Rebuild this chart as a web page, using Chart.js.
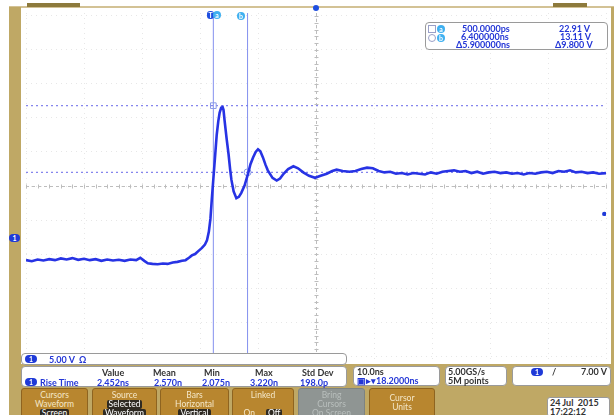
<!DOCTYPE html>
<html>
<head>
<meta charset="utf-8">
<script src="https://cdn.jsdelivr.net/npm/chart.js@4.4.1/dist/chart.umd.min.js"></script>
<style>
  html, body { margin: 0; padding: 0; }
  body { width: 614px; height: 415px; background: #fff; position: relative; overflow: hidden;
         font-family: Lato, "Open Sans", sans-serif; font-weight: 700; }
  .abs { position: absolute; }
  .olive { background: #bfa865; }
  .box { position: absolute; background: #fff; border: 1px solid #9a9a9a; border-radius: 4px; box-sizing: border-box; }
  .blue { color: #2336d6; }
  .dark { color: #333; }
  .pill { display: inline-block; background: #1f3ad8; color: #fff; border-radius: 5px; font-size: 7px;
          line-height: 8px; width: 12px; text-align: center; }
  .btn { position: absolute; top: 388px; height: 30px; background: #b8862f; border: 1px solid #8e6420;
         border-radius: 3px; box-sizing: border-box; color: #f4e7c8; font-size: 8.5px; line-height: 9px;
         text-align: center; padding-top: 2px; font-weight: 400; }
  .btn .sel { display: inline-block; background: #2e2a22; color: #fff; padding: 0 2px; border-radius: 2px; }
  .gray { background: #8f9593; border-color: #7d8381; color: #b9bfbd; }
  .t { position: absolute; font-size: 9px; line-height: 9px; white-space: nowrap; }
  #wrap { position: absolute; left: 21px; top: 8px; width: 590px; height: 356px; }
</style>
</head>
<body>
<div class="abs" style="left:9px;top:6px;width:605px;height:2px;background:#d3c295"></div>
<div class="abs" style="left:27px;top:3px;width:53px;height:4px;background:#8d7a3c"></div>
<div class="abs" style="left:553px;top:3px;width:34px;height:4px;background:#8d7a3c"></div>
<div class="abs olive" style="left:9px;top:7px;width:12px;height:408px"></div>
<div class="abs olive" style="left:611px;top:7px;width:3px;height:408px"></div>
<div class="abs olive" style="left:9px;top:364px;width:605px;height:51px"></div>

<div id="wrap"><canvas id="scope"></canvas></div>

<!-- ground marker and cursor labels -->
<div class="abs pill" style="left:9px;top:234px;width:11px">1</div>
<div class="abs" style="left:207px;top:11px;width:7px;height:8px;border-radius:3px;background:#1f4fe0;color:#fff;font-size:7px;line-height:8px;text-align:center">T</div>
<div class="abs" style="left:213px;top:11px;width:8px;height:8px;border-radius:4px;background:#3fb0f0;color:#fff;font-size:7px;line-height:8px;text-align:center">a</div>
<div class="abs" style="left:237px;top:12px;width:8px;height:8px;border-radius:4px;background:#3fb0f0;color:#fff;font-size:7px;line-height:8px;text-align:center">b</div>
<div class="abs" style="left:313px;top:5px;width:6px;height:6px;border-radius:3px;background:#1f4fe0"></div>

<!-- cursor readout -->
<div class="box" style="left:425px;top:22px;width:183px;height:28px"></div>
<div class="abs" style="left:428px;top:25px;width:6px;height:6px;border:1px solid #9aa0c8"></div>
<div class="abs" style="left:428px;top:34px;width:6px;height:6px;border:1px solid #9aa0c8;border-radius:4px"></div>
<div class="abs" style="left:437px;top:25px;width:8px;height:8px;border-radius:4px;background:#3fb0f0;color:#fff;font-size:7px;line-height:8px;text-align:center">a</div>
<div class="abs" style="left:437px;top:34px;width:8px;height:8px;border-radius:4px;background:#3fb0f0;color:#fff;font-size:7px;line-height:8px;text-align:center">b</div>
<div class="t blue" style="left:462px;top:24px">500.0000ps</div>
<div class="t blue" style="left:461px;top:32px">6.400000ns</div>
<div class="t blue" style="left:456px;top:40px">Δ5.900000ns</div>
<div class="t blue" style="left:559px;top:24px">22.91 V</div>
<div class="t blue" style="left:560px;top:32px">13.11 V</div>
<div class="t blue" style="left:555px;top:40px">Δ9.800 V</div>

<!-- channel and measurement boxes -->
<div class="box" style="left:21px;top:353px;width:326px;height:12px"></div>
<div class="abs pill" style="left:25px;top:355px">1</div>
<div class="t blue" style="left:49px;top:355px">5.00 V &nbsp;Ω</div>

<div class="box" style="left:21px;top:366px;width:326px;height:21px"></div>
<div class="abs pill" style="left:25px;top:378px">1</div>
<div class="t blue" style="left:40px;top:378px">Rise Time</div>
<div class="t dark" style="left:102px;top:368px">Value</div>
<div class="t dark" style="left:153px;top:368px">Mean</div>
<div class="t dark" style="left:204px;top:368px">Min</div>
<div class="t dark" style="left:255px;top:368px">Max</div>
<div class="t dark" style="left:302px;top:368px">Std Dev</div>
<div class="t blue" style="left:97px;top:378px">2.452ns</div>
<div class="t blue" style="left:154px;top:378px">2.570n</div>
<div class="t blue" style="left:202px;top:378px">2.075n</div>
<div class="t blue" style="left:250px;top:378px">3.220n</div>
<div class="t blue" style="left:300px;top:378px">198.0p</div>

<div class="box" style="left:353px;top:366px;width:87px;height:20px"></div>
<div class="t dark" style="left:357px;top:367px">10.0ns</div>
<div class="t blue" style="left:357px;top:376px">▣▸▾18.2000ns</div>

<div class="box" style="left:445px;top:366px;width:62px;height:20px"></div>
<div class="t dark" style="left:448px;top:367px">5.00GS/s</div>
<div class="t dark" style="left:448px;top:376px">5M points</div>

<div class="box" style="left:512px;top:366px;width:99px;height:20px"></div>
<div class="abs pill" style="left:531px;top:368px">1</div>
<div class="t dark" style="left:552px;top:367px">/</div>
<div class="t dark" style="left:581px;top:367px">7.00 V</div>

<div class="box" style="left:547px;top:397px;width:63px;height:20px;border-radius:3px"></div>
<div class="t dark" style="left:550px;top:398px">24 Jul &nbsp;2015</div>
<div class="t dark" style="left:550px;top:407px">17:22:12</div>

<!-- soft buttons -->
<div class="btn" style="left:21px;width:67px">Cursors<br>Waveform<br><span class="sel">Screen</span></div>
<div class="btn" style="left:92px;width:65px">Source<br><span class="sel">Selected</span><br><span class="sel">Waveform</span></div>
<div class="btn" style="left:160px;width:69px">Bars<br>Horizontal<br><span class="sel">Vertical</span></div>
<div class="btn" style="left:232px;width:62px">Linked<br><br>On &nbsp;&nbsp;&nbsp;&nbsp;<span class="sel">Off</span></div>
<div class="btn gray" style="left:298px;width:67px">Bring<br>Cursors<br>On Screen</div>
<div class="btn" style="left:369px;width:66px;padding-top:5px">Cursor<br>Units</div>

<script>
// horizontal: 10 ns/div, trigger position 18.2 ns; vertical: 5 V/div
const xGrid = [-31.8, -21.8, -11.8, -1.8, 8.2, 18.2, 28.2, 38.2, 48.2, 58.2, 68.2];
const yGrid = [-13.9, -8.9, -3.9, 1.1, 6.1, 11.1, 16.1, 21.1, 26.1, 31.1, 36.1];

// channel 1 trace, time in ns, volts
const timeNs = [
  -31.8, -30.8, -29.8, -28.8, -27.8, -26.8, -25.8, -24.8, -23.8, -22.8,
  -21.8, -20.8, -19.8, -18.8, -17.8, -16.8, -15.8, -14.8, -13.8, -12.8,
  -12.1, -11.4, -10.8, -10.0, -9.1, -8.2, -7.4, -6.5, -5.7, -4.9,
  -4.3, -3.7, -3.2, -2.65, -2.0, -1.46, -0.95, -0.6, -0.27, 0.0,
  0.23, 0.57, 0.85, 1.08, 1.35, 1.59, 1.85, 2.1, 2.25, 2.44,
  2.8, 3.12, 3.4, 3.62, 4.0, 4.47, 4.9, 5.32, 5.9, 6.51,
  6.9, 7.35, 7.8, 8.2, 8.6, 9.05, 9.5, 9.89, 10.7, 11.42,
  12.0, 12.61, 13.4, 14.3, 15.1, 16.0, 17.0, 18.03, 19.0, 20.06,
  21.0, 21.76, 22.8, 23.96, 25, 26, 27, 28, 29, 30,
  31, 32, 33, 34, 35, 36, 37, 38, 39, 40,
  41, 42, 43, 44, 45, 46, 47, 48, 49, 50,
  51, 52, 53, 54, 55, 56, 57, 58, 59, 60,
  61, 62, 63, 64, 65, 66, 67, 68.2
];
const ch1Volts = [
  0.2, 0.05, 0.3, 0.15, 0.35, 0.2, 0.45, 0.3, 0.5, 0.25,
  0.4, 0.2, 0.35, 0.1, 0.3, 0.15, 0.25, 0.1, 0.3, 0.2,
  0.55, 0.1, -0.25, -0.35, -0.4, -0.3, -0.35, -0.15, -0.05, 0.1,
  0.2, 0.55, 0.9, 1.1, 1.6, 2.0, 2.5, 3.1, 4.4, 6.3,
  9.1, 12.9, 16.0, 18.6, 20.6, 21.9, 22.6, 22.7, 22.3, 20.7,
  18.0, 15.8, 13.5, 12.0, 10.3, 9.3, 9.5, 10.1, 11.2, 13.0,
  14.3, 15.3, 16.1, 16.5, 16.2, 15.3, 14.2, 13.4, 12.3, 11.9,
  12.2, 12.9, 13.6, 14.0, 13.7, 13.1, 12.6, 12.3, 12.6, 12.9,
  13.3, 13.5, 13.3, 13.2, 13.3, 13.6, 13.8, 13.7, 13.3, 13.1,
  13.2, 12.9, 13.0, 12.8, 13.0, 12.9, 12.8, 13.1, 12.9, 13.2,
  13.3, 13.4, 13.2, 13.3, 13.0, 13.2, 12.9, 13.1, 13.2, 13.0,
  13.1, 12.9, 13.0, 12.8, 13.0, 12.9, 13.1, 13.2, 13.0, 13.3,
  13.2, 13.4, 13.1, 13.2, 13.0, 13.1, 12.9, 13.0
];

// cursor readout
const cursorTimes = [0.5, 6.4];
const cursorVolts = [22.91, 13.11];
const trigLevel = 7.0;

const xMin = -31.8, xMax = 68.2, yMin = -14.33, yMax = 36.53;
const traceBlue = "#2733e4";
const cursorColor = "rgba(110,125,235,0.85)";

const trace = timeNs.map((t, i) => ({ x: t, y: ch1Volts[i] }));

const graticule = {
  id: "graticule",
  beforeDatasetsDraw(chart) {
    const { ctx, scales: { x, y } } = chart;
    const cx = Math.round(x.getPixelForValue(xGrid[5])) + 0.5;
    const cy = Math.round(y.getPixelForValue(yGrid[5])) + 0.5;
    ctx.save();
    ctx.strokeStyle = "#bdbdbd";
    ctx.lineWidth = 1;
    ctx.setLineDash([3, 3]);
    ctx.beginPath();
    ctx.moveTo(x.left, cy); ctx.lineTo(x.right, cy);
    ctx.moveTo(cx, y.top); ctx.lineTo(cx, y.bottom);
    ctx.stroke();
    ctx.setLineDash([]);
    ctx.beginPath();
    for (let t = xGrid[0]; t <= xGrid[10] + 0.01; t += 2) {
      const px = Math.round(x.getPixelForValue(t)) + 0.5;
      ctx.moveTo(px, cy - 2); ctx.lineTo(px, cy + 2);
    }
    for (let v = yGrid[0]; v <= yGrid[10] + 0.01; v += 1) {
      const py = Math.round(y.getPixelForValue(v)) + 0.5;
      ctx.moveTo(cx - 2, py); ctx.lineTo(cx + 2, py);
    }
    ctx.stroke();
    ctx.restore();
  }
};

new Chart(document.getElementById("scope"), {
  type: "line",
  data: {
    datasets: [
      { data: trace, borderColor: traceBlue, borderWidth: 2.6, pointRadius: 0, tension: 0, order: 0 },
      { data: [{ x: cursorTimes[0], y: yMin }, { x: cursorTimes[0], y: yMax }],
        borderColor: cursorColor, borderWidth: 1, pointRadius: 0, order: 2 },
      { data: [{ x: cursorTimes[1], y: yMin }, { x: cursorTimes[1], y: yMax }],
        borderColor: cursorColor, borderWidth: 1, pointRadius: 0, order: 2 },
      { data: [{ x: xMin, y: cursorVolts[0] }, { x: xMax, y: cursorVolts[0] }],
        borderColor: "rgba(120,120,235,0.9)", borderWidth: 1.2, borderDash: [2, 3], pointRadius: 0, order: 2 },
      { data: [{ x: xMin, y: cursorVolts[1] }, { x: xMax, y: cursorVolts[1] }],
        borderColor: "rgba(120,120,235,0.9)", borderWidth: 1.2, borderDash: [2, 3], pointRadius: 0, order: 2 },
      { data: [{ x: cursorTimes[0], y: cursorVolts[0] }], showLine: false, pointStyle: "rect",
        pointRadius: 4, pointBackgroundColor: "rgba(0,0,0,0)", pointBorderColor: "#8a9ae8", pointBorderWidth: 1, order: 1 },
      { data: [{ x: cursorTimes[1], y: cursorVolts[1] }], showLine: false, pointStyle: "circle",
        pointRadius: 3.5, pointBackgroundColor: "rgba(0,0,0,0)", pointBorderColor: "#8a9ae8", pointBorderWidth: 1, order: 1 },
      { data: [{ x: 67.9, y: trigLevel }], showLine: false, pointRadius: 2.2,
        pointBackgroundColor: "#1f3ad8", pointBorderWidth: 0, order: 1 }
    ]
  },
  options: {
    responsive: true,
    maintainAspectRatio: false,
    devicePixelRatio: 1,
    animation: false,
    layout: { padding: 0 },
    plugins: { legend: { display: false }, tooltip: { enabled: false } },
    scales: {
      x: {
        type: "linear", min: xMin, max: xMax,
        afterBuildTicks: (axis) => { axis.ticks = xGrid.map(v => ({ value: v })); },
        ticks: { display: false },
        grid: { color: "rgba(175,175,175,0.3)", drawTicks: false },
        border: { display: false, dash: [1, 4] }
      },
      y: {
        type: "linear", min: yMin, max: yMax,
        afterBuildTicks: (axis) => { axis.ticks = yGrid.map(v => ({ value: v })); },
        ticks: { display: false },
        grid: { color: "rgba(175,175,175,0.3)", drawTicks: false },
        border: { display: false, dash: [1, 4] }
      }
    }
  },
  plugins: [graticule]
});
</script>
</body>
</html>
